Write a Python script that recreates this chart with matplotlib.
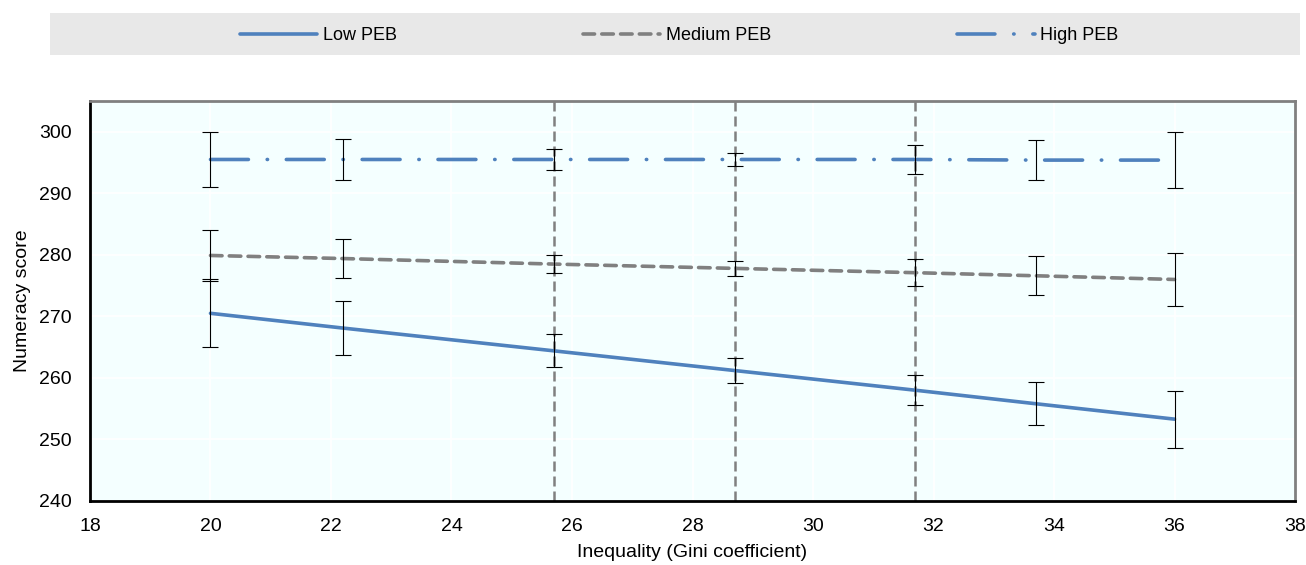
import matplotlib
matplotlib.use("Agg")
import matplotlib.pyplot as plt
from matplotlib.patches import Rectangle

plt.rcParams['font.family'] = ['Liberation Sans', 'DejaVu Sans']

# Gini coefficient positions of the estimates
gini = [20.0, 22.2, 25.7, 28.7, 31.7, 33.7, 36.0]

# predicted numeracy scores by parental education background (PEB)
low_peb = [270.5, 268.1, 264.4, 261.2, 258.0, 255.8, 253.3]
medium_peb = [279.9, 279.4, 278.5, 277.8, 277.1, 276.6, 276.0]
high_peb = [295.5, 295.5, 295.5, 295.5, 295.5, 295.4, 295.4]

# half-width of the confidence intervals
low_err = [5.5, 4.4, 2.7, 2.05, 2.45, 3.5, 4.65]
medium_err = [4.2, 3.1, 1.45, 1.2, 2.2, 3.2, 4.35]
high_err = [4.45, 3.3, 1.7, 1.1, 2.3, 3.25, 4.5]

# quartiles of the Gini distribution
quartiles = [25.7, 28.7, 31.7]

series_labels = ["Low PEB", "Medium PEB", "High PEB"]

blue = "#4f81bd"
grey = "#808080"

fig = plt.figure(figsize=(13.06, 5.65), dpi=100)
ax = fig.add_axes([0.0689, 0.1133, 0.9227, 0.7079])
ax.set_facecolor("#f4ffff")

ax.grid(True, color="white", linewidth=1.2)
ax.set_axisbelow(True)

for q in quartiles:
    ax.axvline(q, color=grey, linewidth=1.8, dashes=(4, 2), zorder=2)

err_kw = dict(fmt="none", ecolor="black", elinewidth=0.8, capsize=6, capthick=0.8, zorder=4)
ax.errorbar(gini, low_peb, yerr=low_err, **err_kw)
ax.errorbar(gini, medium_peb, yerr=medium_err, **err_kw)
ax.errorbar(gini, high_peb, yerr=high_err, **err_kw)

ax.plot(gini, low_peb, color=blue, linewidth=2.6, solid_capstyle="round",
        label=series_labels[0], zorder=3)
ax.plot(gini, medium_peb, color=grey, linewidth=2.6, dashes=(3.2, 2.0),
        dash_capstyle="round", label=series_labels[1], zorder=3)
ax.plot(gini, high_peb, color=blue, linewidth=2.6, dashes=(10.5, 5.2, 0.1, 5.2),
        dash_capstyle="round", label=series_labels[2], zorder=3)

ax.set_xlim(18, 38)
ax.set_ylim(240, 305)
ax.set_xticks(range(18, 39, 2))
ax.set_yticks(range(240, 301, 10))
ax.tick_params(axis="both", length=0, labelsize=14)
ax.tick_params(axis="y", pad=13)
ax.tick_params(axis="x", pad=12)

ax.set_xlabel("Inequality (Gini coefficient)", fontsize=14, labelpad=7)
ax.set_ylabel("Numeracy score", fontsize=14, labelpad=6)

for side in ["left", "bottom"]:
    ax.spines[side].set_color("black")
    ax.spines[side].set_linewidth(2)
for side in ["top", "right"]:
    ax.spines[side].set_color(grey)
    ax.spines[side].set_linewidth(2)

# grey legend band above the plot
fig.patches.append(Rectangle((0.0383, 0.9027), 0.9571, 0.0743, transform=fig.transFigure,
                             facecolor="#e8e8e8", edgecolor="none", zorder=0))
fig.legend(loc="center", bbox_to_anchor=(0.52, 0.937), ncol=3, frameon=False,
           fontsize=13, handlelength=4.3, handletextpad=0.3, columnspacing=10.3)

fig.savefig("out.png", dpi=100)
